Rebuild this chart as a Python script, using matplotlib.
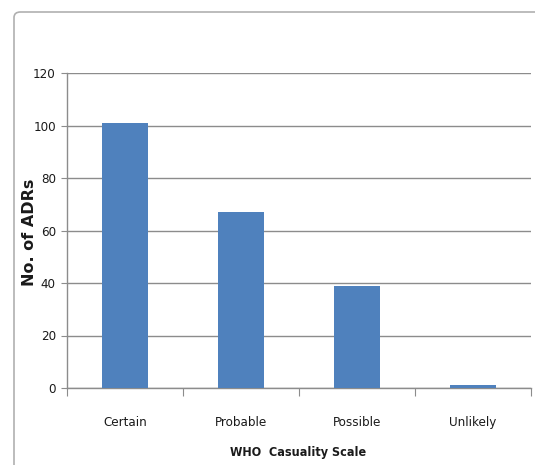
import numpy as np
import matplotlib.pyplot as plt
from matplotlib.patches import FancyBboxPatch

categories = ["Certain", "Probable", "Possible", "Unlikely"]
adr_counts = [101, 67, 39, 1]
y_ticks = [0, 20, 40, 60, 80, 100, 120]

bar_color = "#4f81bd"
grid_color = "#8c8c8c"
text_color = "#1a1a1a"
narrow = dict(family="DejaVu Sans", stretch="condensed", color=text_color)

fig = plt.figure(figsize=(5.35, 4.65), dpi=100)

# outer chart frame (only top and left edges visible, rest cropped)
frame = FancyBboxPatch((14 / 535, -0.1), 1.2, 1 - 12 / 465 + 0.1,
                       boxstyle="round,pad=0,rounding_size=0.012",
                       transform=fig.transFigure, facecolor="white",
                       edgecolor="#b0b0b0", linewidth=1.2, zorder=-1)
fig.patches.append(frame)

ax = fig.add_axes([67 / 535, 1 - 388 / 465, (531 - 67) / 535, (388 - 73) / 465])
ax.set_zorder(2)
ax.set_facecolor("none")

x = np.arange(len(categories))
ax.bar(x, adr_counts, width=0.4, color=bar_color, zorder=3)

ax.set_xlim(-0.5, len(categories) - 0.5)
ax.set_ylim(0, 120)
ax.set_yticks(y_ticks)
ax.set_yticklabels([str(v) for v in y_ticks], fontsize=9.5, **narrow)
ax.yaxis.grid(True, color=grid_color, linewidth=1.0, zorder=0)

# category boundaries get the tick marks, labels sit at the bar centres
ax.set_xticks(np.arange(len(categories) + 1) - 0.5)
ax.set_xticklabels([])
ax.set_xticks(x, minor=True)
ax.set_xticklabels(categories, minor=True, fontsize=9.5, **narrow)
ax.tick_params(axis="x", which="major", length=6, color=grid_color, direction="out")
ax.tick_params(axis="x", which="minor", length=0, pad=20)
ax.tick_params(axis="y", length=4, color=grid_color, pad=4)

for side in ["top", "right"]:
    ax.spines[side].set_visible(False)
for side in ["left", "bottom"]:
    ax.spines[side].set_color(grid_color)
    ax.spines[side].set_linewidth(1.0)

fig.text(30 / 535, 1 - 232 / 465, "No. of ADRs", rotation=90, ha="center",
         va="center", fontsize=11.5, fontweight="bold", family="DejaVu Sans",
         color=text_color)
fig.text(298 / 535, 1 - 452 / 465, "WHO  Casuality Scale", ha="center",
         va="center", fontsize=9, fontweight="bold", **narrow)

fig.savefig("out.png", dpi=100)
